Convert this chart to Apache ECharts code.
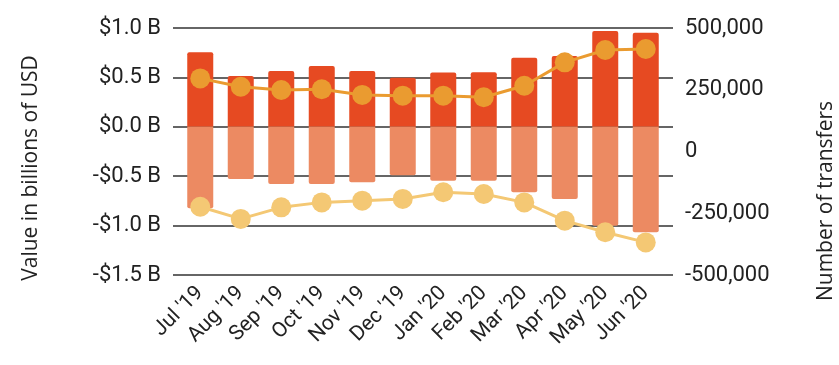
<!DOCTYPE html>
<html><head><meta charset="utf-8">
<script src="https://cdn.jsdelivr.net/npm/echarts@6/dist/echarts.min.js"></script>
<style>html,body{margin:0;padding:0;background:#fff}#c{width:839px;height:365px}</style>
</head><body><div id="c"></div>
<script>
const months = ["Jul '19","Aug '19","Sep '19","Oct '19","Nov '19","Dec '19","Jan '20","Feb '20","Mar '20","Apr '20","May '20","Jun '20"];
const valueIn = [0.754,0.514,0.565,0.615,0.565,0.497,0.550,0.552,0.700,0.717,0.970,0.952];
const valueOut = [-0.825,-0.528,-0.579,-0.579,-0.562,-0.491,-0.545,-0.545,-0.663,-0.731,-1.001,-1.068];
const countIn = [296000,262000,249000,252000,229000,226000,226000,219500,266000,361000,411000,415000];
const countOut = [-223500,-273000,-226000,-206000,-199000,-192000,-165000,-172000,-206000,-280000,-327000,-368000];
const leftTicks = {min:-1.5,max:1.0,interval:0.5};
const rightTicks = {min:-500000,max:500000,interval:250000};

const chart = echarts.init(document.getElementById('c'));
const tickFont = {fontFamily:'Roboto',fontSize:22,color:'#222'};
chart.setOption({
  animation:false,
  grid:{left:180,right:173,top:28,bottom:90},
  xAxis:{type:'category',data:months,boundaryGap:true,
    axisLine:{show:false},axisTick:{show:false},
    axisLabel:{rotate:45,interval:0,margin:15,fontFamily:'Roboto',fontSize:21,color:'#222'}},
  yAxis:[
    {type:'value',position:'left',min:leftTicks.min,max:leftTicks.max,interval:leftTicks.interval,
     axisLine:{show:false},axisTick:{show:true,length:7,lineStyle:{color:'#333',width:1.5}},
     splitLine:{lineStyle:{color:'#333',width:1.5}},
     axisLabel:{...tickFont,margin:19,formatter:v=>(v<0?'-':'')+'$'+Math.abs(v).toFixed(1)+' B'}},
    {type:'value',position:'right',min:rightTicks.min,max:rightTicks.max,interval:rightTicks.interval,
     axisLine:{show:false},axisTick:{show:false},splitLine:{show:false},
     axisLabel:{...tickFont,margin:19,formatter:v=>v.toLocaleString('en-US')}},
    {type:'value',position:'right',min:leftTicks.min,max:leftTicks.max,interval:leftTicks.interval,
     axisLine:{show:false},axisTick:{show:true,length:7,lineStyle:{color:'#333',width:1.5}},
     splitLine:{show:false},axisLabel:{show:false}}
  ],
  series:[
    {type:'bar',data:valueIn,yAxisIndex:0,stack:'v',barWidth:26,
     itemStyle:{color:'#E64A22',borderRadius:[2,2,0,0]}},
    {type:'bar',data:valueOut,yAxisIndex:0,stack:'v',barWidth:26,
     itemStyle:{color:'#EC8A62',borderRadius:[0,0,2,2]}},
    {type:'line',data:countIn,yAxisIndex:1,symbol:'circle',symbolSize:20,
     lineStyle:{color:'#EA9B30',width:3},itemStyle:{color:'#EA9B30'}},
    {type:'line',data:countOut,yAxisIndex:1,symbol:'circle',symbolSize:20,
     lineStyle:{color:'#F4C874',width:3},itemStyle:{color:'#F4C874'}}
  ],
  graphic:[
    {type:'text',x:31,y:168,rotation:Math.PI/2,
     style:{text:'Value in billions of USD',font:'21px "Open Sans"',fill:'#222',align:'center',verticalAlign:'middle'}},
    {type:'text',x:826,y:201,rotation:Math.PI/2,
     style:{text:'Number of transfers',font:'21px "Open Sans"',fill:'#222',align:'center',verticalAlign:'middle'}}
  ]
});
</script></body></html>
